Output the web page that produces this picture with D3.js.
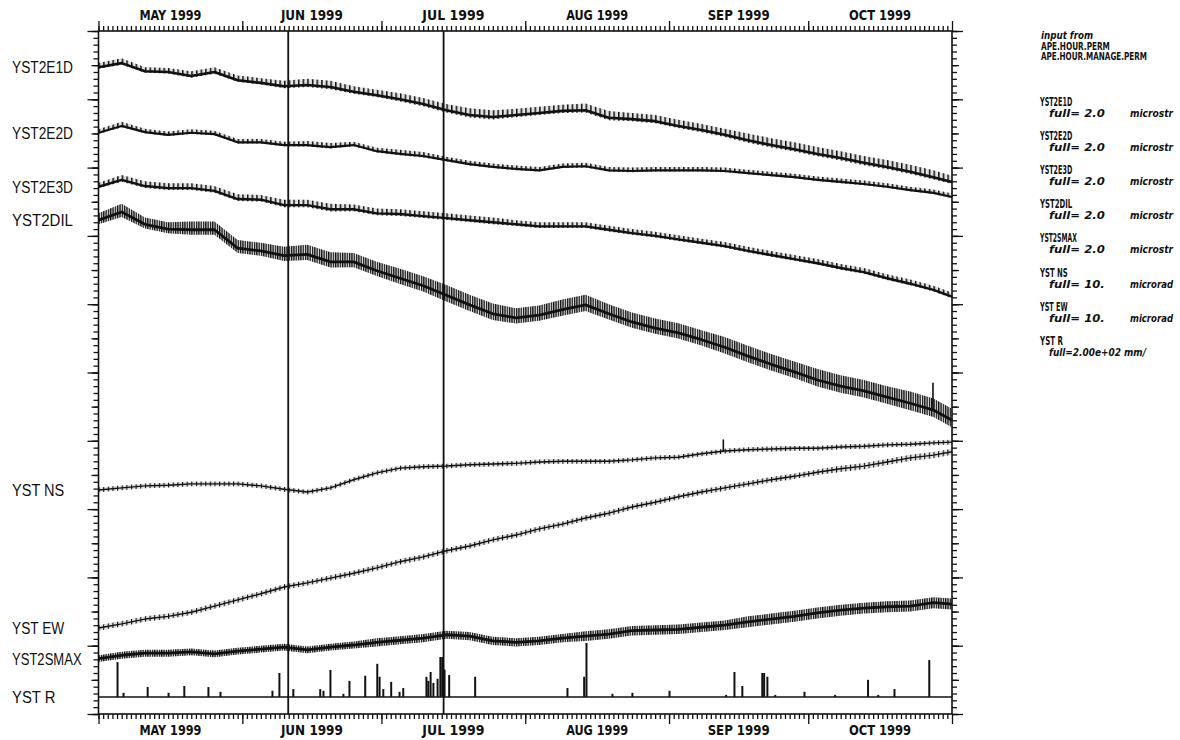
<!DOCTYPE html>
<html><head><meta charset="utf-8">
<script src="https://cdn.jsdelivr.net/npm/d3@7"></script>
<style>body{margin:0;background:#fff} svg{display:block}</style>
</head><body><svg id="c" width="1180" height="740"></svg>
<script>
// ---- data (values in chart divisions, 0 = bottom, 10 = top) ----
const sampleDays = [0,5,10,15,20,25,30,35,40,45,50,55,60,65,70,75,80,85,90,95,100,105,110,115,120,125,130,135,140,145,150,155,160,165,170,175,180,184];
const seriesNames = ["YST2E1D","YST2E2D","YST2E3D","YST2DIL","YST NS","YST EW","YST2SMAX"];
const e1dVals = [9.47,9.53,9.41,9.40,9.34,9.40,9.28,9.24,9.19,9.21,9.18,9.11,9.06,9.00,8.93,8.84,8.77,8.74,8.77,8.80,8.83,8.84,8.73,8.71,8.68,8.61,8.55,8.48,8.40,8.33,8.27,8.20,8.14,8.07,8.01,7.94,7.86,7.79];
const e2dVals = [8.51,8.61,8.52,8.48,8.51,8.49,8.37,8.37,8.33,8.33,8.30,8.33,8.24,8.20,8.17,8.11,8.05,8.01,7.98,7.96,8.01,8.02,7.96,7.95,7.96,7.96,7.96,7.95,7.92,7.89,7.86,7.82,7.79,7.76,7.72,7.67,7.63,7.57];
const e3dVals = [7.72,7.82,7.73,7.70,7.70,7.66,7.54,7.53,7.45,7.45,7.39,7.39,7.33,7.32,7.29,7.26,7.23,7.20,7.17,7.14,7.14,7.14,7.09,7.04,7.00,6.95,6.90,6.85,6.78,6.72,6.66,6.60,6.53,6.47,6.38,6.30,6.21,6.11];
const dilVals = [7.23,7.35,7.17,7.10,7.09,7.09,6.82,6.78,6.71,6.73,6.62,6.62,6.49,6.38,6.27,6.13,5.99,5.86,5.80,5.84,5.92,5.99,5.86,5.74,5.65,5.58,5.48,5.37,5.24,5.12,5.01,4.89,4.80,4.73,4.64,4.55,4.45,4.30];
const nsVals = [3.28,3.31,3.34,3.35,3.37,3.37,3.37,3.34,3.29,3.25,3.31,3.43,3.53,3.60,3.62,3.63,3.65,3.66,3.67,3.69,3.70,3.70,3.70,3.72,3.75,3.76,3.81,3.85,3.87,3.88,3.89,3.89,3.91,3.92,3.94,3.95,3.97,3.98];
const ewVals = [1.26,1.32,1.39,1.43,1.49,1.58,1.67,1.76,1.86,1.92,1.99,2.06,2.14,2.23,2.30,2.39,2.46,2.55,2.62,2.71,2.78,2.87,2.94,3.03,3.10,3.18,3.25,3.31,3.37,3.43,3.48,3.54,3.59,3.63,3.69,3.75,3.79,3.84];
const smaxVals = [0.81,0.86,0.89,0.89,0.91,0.88,0.92,0.95,0.98,0.94,0.98,1.01,1.05,1.08,1.11,1.16,1.14,1.07,1.05,1.07,1.11,1.14,1.17,1.22,1.23,1.24,1.27,1.30,1.35,1.39,1.43,1.48,1.52,1.55,1.57,1.58,1.63,1.61];
// daily tidal excursion (divisions)
const e1dAmp = [0.06,0.07,0.06,0.06,0.07,0.07,0.07,0.07,0.08,0.09,0.09,0.08,0.08,0.09,0.09,0.09,0.10,0.10,0.09,0.09,0.09,0.10,0.10,0.09,0.09,0.09,0.09,0.09,0.10,0.10,0.10,0.10,0.10,0.10,0.10,0.10,0.10,0.09];
const e2dAmp = [0.05,0.06,0.05,0.05,0.05,0.05,0.05,0.05,0.05,0.06,0.06,0.05,0.05,0.06,0.06,0.05,0.05,0.05,0.05,0.05,0.05,0.05,0.05,0.05,0.05,0.05,0.05,0.05,0.05,0.05,0.05,0.05,0.05,0.05,0.05,0.05,0.05,0.05];
const e3dAmp = [0.06,0.07,0.07,0.07,0.07,0.07,0.07,0.07,0.08,0.08,0.08,0.07,0.07,0.07,0.07,0.07,0.07,0.07,0.06,0.06,0.06,0.06,0.06,0.06,0.06,0.06,0.06,0.06,0.06,0.06,0.06,0.06,0.06,0.06,0.06,0.06,0.06,0.06];
const dilAmp = [0.10,0.12,0.10,0.10,0.12,0.12,0.12,0.12,0.13,0.14,0.14,0.13,0.13,0.14,0.14,0.15,0.15,0.15,0.14,0.14,0.15,0.15,0.14,0.14,0.14,0.14,0.14,0.15,0.15,0.15,0.15,0.16,0.16,0.16,0.16,0.17,0.17,0.17];
const nsAmp = [0.035,0.035,0.035,0.035,0.035,0.035,0.035,0.035,0.035,0.035,0.035,0.035,0.035,0.035,0.035,0.035,0.035,0.035,0.035,0.035,0.035,0.035,0.035,0.035,0.035,0.035,0.035,0.035,0.035,0.035,0.035,0.035,0.035,0.035,0.035,0.035,0.035,0.035];
const ewAmp = [0.04,0.04,0.04,0.04,0.04,0.04,0.04,0.04,0.04,0.04,0.04,0.04,0.04,0.04,0.04,0.04,0.04,0.04,0.04,0.04,0.04,0.04,0.04,0.04,0.04,0.04,0.04,0.04,0.04,0.04,0.04,0.04,0.045,0.045,0.045,0.045,0.045,0.045];
const smaxAmp = [0.05,0.05,0.05,0.05,0.05,0.05,0.05,0.05,0.05,0.05,0.05,0.05,0.06,0.06,0.06,0.06,0.06,0.06,0.06,0.06,0.06,0.07,0.07,0.07,0.07,0.07,0.07,0.07,0.08,0.08,0.08,0.08,0.08,0.08,0.08,0.08,0.08,0.08];
// isolated spikes
const spikeSeries = ["YST NS","YST2DIL"];
const spikeDays = [134.7, 179.9];
const spikeTops = [4.02, 4.85];
// rainfall (mm), day offset from 1 May 1999
const rainDays = [4.1,5.4,10.6,15.1,18.5,23.7,26.3,37.5,39.0,42.0,47.8,48.5,50.0,52.8,54.1,57.5,60.1,60.6,61.4,63.1,64.9,65.7,70.7,71.1,71.6,72.2,73.1,73.7,74.1,74.6,75.6,81.2,101.1,104.7,105.2,110.8,115.1,123.1,135.3,137.1,138.8,143.1,143.5,144.2,145.9,152.2,158.8,165.9,168.1,171.6,179.1];
const rainMm = [10.2,1.2,2.9,1.2,3.2,2.9,1.5,1.8,7.0,2.3,2.3,1.8,7.9,0.9,4.7,6.2,9.7,5.9,2.3,4.4,1.5,2.6,5.9,4.7,7.3,4.1,5.3,11.7,11.7,8.0,6.4,5.9,2.6,5.9,15.8,0.9,1.2,1.8,0.6,7.3,3.2,7.0,7.0,5.9,0.6,1.5,0.6,5.0,0.6,2.3,10.8];
const rainBase = 0.25;      // divisions
const rainFull = 200;       // mm over full height
const eventDays = [40.9, 74.4];
const monthLabels = ["MAY 1999","JUN 1999","JUL 1999","AUG 1999","SEP 1999","OCT 1999"];
const sourceLines = ["input from","APE.HOUR.PERM","APE.HOUR.MANAGE.PERM"];
const legendNames = ["YST2E1D","YST2E2D","YST2E3D","YST2DIL","YST2SMAX","YST NS","YST EW","YST R"];
const legendFull = ["full= 2.0","full= 2.0","full= 2.0","full= 2.0","full= 2.0","full= 10.","full= 10.","full=2.00e+02 mm/"];
const legendUnits = ["microstr","microstr","microstr","microstr","microstr","microrad","microrad",""];

// ---- layout ----
const L = 98.5, R = 952, T = 31, B = 714;
const t0 = Date.UTC(1999,4,1), t1 = Date.UTC(1999,10,1);
const dayDate = d => new Date(t0 + d*864e5);
const x = d3.scaleUtc().domain([new Date(t0), new Date(t1)]).range([L, R]);
const y = d3.scaleLinear().domain([0,10]).range([B, T]);
const svg = d3.select("#c");
const ink = "#111";

const defs = svg.append("defs");
const dayPx = x(dayDate(1)) - x(dayDate(0));
[["hair1",1,1.5],["hair2",2,1.3],["hairT",1,1.1]].forEach(([id,n,w])=>{
  defs.append("pattern").attr("id",id).attr("patternUnits","userSpaceOnUse")
    .attr("x", L).attr("y", 0).attr("width", dayPx/n).attr("height", 20)
    .append("rect").attr("x",0).attr("y",0).attr("width",w).attr("height",20).attr("fill",ink);
});

// ---- axes ----
const days = d3.utcDay.range(new Date(t0), new Date(t1));
const months = d3.utcMonth.range(new Date(t0), new Date(t1+1));
function timeAxis(gen, ty){
  svg.append("g").attr("transform",`translate(0,${ty})`)
    .call(gen(x).tickValues(days).tickSize(5).tickSizeOuter(0).tickFormat(""))
    .call(g=>g.select(".domain").remove());
  svg.append("g").attr("transform",`translate(0,${ty})`)
    .call(gen(x).tickValues(months).tickSize(10).tickSizeOuter(0).tickFormat(""))
    .call(g=>g.select(".domain").remove());
}
timeAxis(d3.axisTop, T);
timeAxis(d3.axisBottom, B);
const minorV = d3.range(0,101).map(i=>i/10);
const midV = d3.range(0,21).map(i=>i/2);
const majV = d3.range(0,11);
function valAxis(gen, tx){
  [[minorV,5],[midV,7],[majV,11]].forEach(([v,s])=>{
    svg.append("g").attr("transform",`translate(${tx},0)`)
      .call(gen(y).tickValues(v).tickSize(s).tickSizeOuter(0).tickFormat(""))
      .call(g=>g.select(".domain").remove());
  });
}
valAxis(d3.axisLeft, L);
valAxis(d3.axisRight, R);
svg.selectAll(".tick line").attr("stroke", ink).attr("stroke-width", 1.3);

svg.append("rect").attr("x",L).attr("y",T).attr("width",R-L).attr("height",B-T)
  .attr("fill","none").attr("stroke",ink).attr("stroke-width",1.6);

// month labels
const monthStarts = d3.utcMonth.range(new Date(t0), new Date(t1));
monthStarts.forEach((m,i)=>{
  const next = d3.utcMonth.offset(m,1);
  const cx = (x(m)+x(next))/2;
  [T-11, B+21].forEach(ty=>{
    svg.append("text").attr("x",cx-31).attr("y",ty)
      .attr("font-family","'DejaVu Sans Condensed','DejaVu Sans',sans-serif")
      .attr("font-size",14).attr("font-weight",600).attr("fill",ink)
      .attr("textLength",62).attr("lengthAdjust","spacingAndGlyphs").text(monthLabels[i]);
  });
});

// ---- traces ----
const traces = [
  {name:"YST2E1D", v:e1dVals, a:e1dAmp, w:2.6, up:1, dn:0.35, pat:"hair1"},
  {name:"YST2E2D", v:e2dVals, a:e2dAmp, w:2.2, up:1, dn:0.35, pat:"hair1"},
  {name:"YST2E3D", v:e3dVals, a:e3dAmp, w:2.4, up:1, dn:0.4, pat:"hair1"},
  {name:"YST2DIL", v:dilVals, a:dilAmp, w:2.8, up:1, dn:0.6, pat:"hair2"},
  {name:"YST NS", v:nsVals, a:nsAmp, w:1.4, up:1, dn:1, pat:"hairT"},
  {name:"YST EW", v:ewVals, a:ewAmp, w:1.4, up:1, dn:1, pat:"hairT"},
  {name:"YST2SMAX", v:smaxVals, a:smaxAmp, w:2.8, up:1, dn:1, pat:"hair2"}
];
const gT = svg.append("g");
traces.forEach(tr=>{
  const pts = sampleDays.map((d,i)=>({d, v:tr.v[i], a:tr.a[i]}));
  const band = d3.area().x(p=>x(dayDate(p.d))).y0(p=>y(p.v-p.a*tr.dn)).y1(p=>y(p.v+p.a*tr.up));
  gT.append("path").datum(pts).attr("d", band).attr("fill",ink).attr("fill-opacity",0.12);
  gT.append("path").datum(pts).attr("d", band).attr("fill",`url(#${tr.pat})`);
  gT.append("path").datum(pts)
    .attr("d", d3.line().x(p=>x(dayDate(p.d))).y(p=>y(p.v)))
    .attr("fill","none").attr("stroke",ink).attr("stroke-width",tr.w).attr("stroke-linejoin","round");
});
// spikes
spikeSeries.forEach((s,i)=>{
  const tr = traces.find(t=>t.name===s);
  const d = spikeDays[i];
  const i0 = d3.bisectRight(sampleDays, d)-1;
  const f = (d-sampleDays[i0])/(sampleDays[i0+1]-sampleDays[i0]);
  const base = tr.v[i0] + f*(tr.v[i0+1]-tr.v[i0]);
  gT.append("line").attr("x1",x(dayDate(d))).attr("x2",x(dayDate(d)))
    .attr("y1",y(base)).attr("y2",y(spikeTops[i])).attr("stroke",ink).attr("stroke-width",1.6);
});

// rain
const rainY = v => y(rainBase + v/rainFull*10);
svg.append("line").attr("x1",L).attr("x2",R).attr("y1",y(rainBase)).attr("y2",y(rainBase))
  .attr("stroke",ink).attr("stroke-width",1.4);
svg.append("g").selectAll("line").data(rainDays).join("line")
  .attr("x1",d=>x(dayDate(d))).attr("x2",d=>x(dayDate(d)))
  .attr("y1",y(rainBase)).attr("y2",(d,i)=>rainY(rainMm[i]))
  .attr("stroke",ink).attr("stroke-width",2);

// event lines
svg.append("g").selectAll("line").data(eventDays).join("line")
  .attr("x1",d=>x(dayDate(d))).attr("x2",d=>x(dayDate(d)))
  .attr("y1",T).attr("y2",B).attr("stroke",ink).attr("stroke-width",1.8);

// left labels
const leftLabels = seriesNames.map((n,i)=>({n, v:traces[i].v[0]})).concat([{n:"YST R", v:rainBase}]);
svg.append("g").selectAll("text").data(leftLabels).join("text")
  .attr("x",12).attr("y",d=>y(d.v)+6)
  .attr("font-family","'Liberation Sans',Arial,sans-serif").attr("font-size",16)
  .attr("textLength",d=>d.n.length*8.7).attr("lengthAdjust","spacingAndGlyphs")
  .attr("fill",ink).text(d=>d.n);

// right legend
const lf = "'DejaVu Sans Condensed','DejaVu Sans',sans-serif";
const gL = svg.append("g").attr("font-family",lf).attr("font-weight","bold").attr("fill",ink).attr("font-size",10.5);
function ltext(tx, ty, s, len, italic, fs){
  gL.append("text").attr("x",tx).attr("y",ty).attr("font-style",italic?"italic":"normal")
    .attr("font-size",fs||10.5)
    .attr("textLength",len).attr("lengthAdjust","spacingAndGlyphs").text(s);
}
sourceLines.forEach((s,i)=>ltext(1041, 39+i*10.5, s, s.length*(i===0?5.2:5.3), i===0));
legendNames.forEach((n,i)=>{
  const by = 106 + i*34.1;
  ltext(1040, by, n, n.length*4.6, false, 11.5);
  ltext(1049, by+11, legendFull[i], legendFull[i].length*(i===7?5.7:6.2), true);
  if (legendUnits[i]) ltext(1130, by+11, legendUnits[i], 43, true);
});
</script></body></html>
